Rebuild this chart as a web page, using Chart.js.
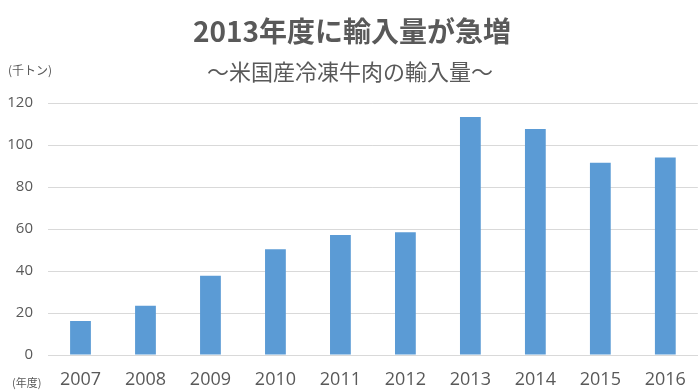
<!DOCTYPE html>
<html lang="ja">
<head>
<meta charset="utf-8">
<script src="https://cdn.jsdelivr.net/npm/chart.js@4"></script>
<style>
  html, body { margin: 0; padding: 0; background: #fff; }
  #wrap { width: 700px; height: 392px; position: relative; }
</style>
</head>
<body>
<div id="wrap"><canvas id="importChart"></canvas></div>
<script>
const years = ['2007', '2008', '2009', '2010', '2011', '2012', '2013', '2014', '2015', '2016'];
const imports = [16.2, 23.5, 37.7, 50.4, 57.2, 58.5, 113.3, 107.6, 91.5, 94.1]; // 千トン
const yMax = 120;
const yStep = 20;

const titleText = '2013年度に輸入量が急増';
const subtitleText = '～米国産冷凍牛肉の輸入量～';
const unitText = '(千トン)';
const yearText = '(年度)';

const textColor = '#595959';
const jpFont = '"Noto Sans CJK JP", "Noto Sans", sans-serif';

// header / axis captions drawn on the canvas
const captions = {
    id: 'captions',
    afterDraw(chart) {
        const ctx = chart.ctx;
        ctx.save();
        ctx.fillStyle = textColor;
        ctx.textBaseline = 'middle';
        ctx.textAlign = 'center';
        ctx.font = 'bold 28px ' + jpFont;
        ctx.fillText(titleText, 352, 31);
        ctx.font = '22px ' + jpFont;
        ctx.fillText(subtitleText, 350, 72);
        ctx.textAlign = 'left';
        ctx.font = '12px ' + jpFont;
        ctx.fillText(unitText, 8, 70);
        ctx.font = '11px ' + jpFont;
        ctx.fillText(yearText, 12, 383);
        ctx.restore();
    }
};

new Chart(document.getElementById('importChart'), {
    type: 'bar',
    data: {
        labels: years,
        datasets: [{
            label: '輸入量',
            data: imports,
            backgroundColor: '#5B9BD5',
            borderWidth: 0,
            barPercentage: 0.32,
            categoryPercentage: 1.0,
        }]
    },
    options: {
        responsive: true,
        maintainAspectRatio: false,
        animation: false,
        layout: {
            padding: { top: 103, right: 2, bottom: 0, left: 0 }
        },
        plugins: {
            legend: { display: false },
            tooltip: { enabled: false },
        },
        scales: {
            y: {
                min: 0,
                max: yMax,
                border: { display: false },
                grid: {
                    color: '#d9d9d9',
                    lineWidth: 1,
                    drawTicks: false,
                },
                ticks: {
                    stepSize: yStep,
                    padding: 15,
                    color: textColor,
                    font: { family: '"Open Sans", sans-serif', size: 15 },
                },
                afterFit(scale) { scale.width = 48; }
            },
            x: {
                border: { display: true, color: '#d9d9d9' },
                grid: { display: false, drawTicks: false },
                ticks: {
                    padding: 14,
                    color: textColor,
                    font: { family: '"Open Sans", sans-serif', size: 18 },
                    maxRotation: 0,
                },
                afterFit(scale) { scale.height = 37; }
            }
        }
    },
    plugins: [captions]
});
</script>
</body>
</html>
